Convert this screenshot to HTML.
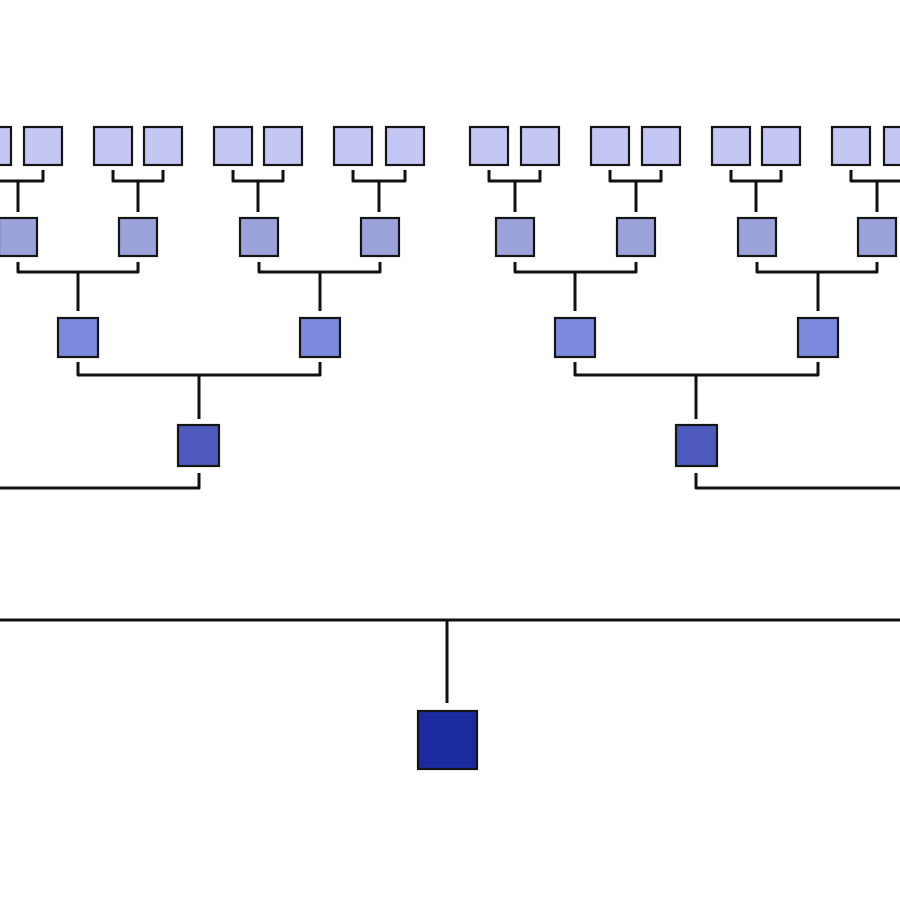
<!DOCTYPE html>
<html><head><style>html,body{margin:0;padding:0;background:#fff;}svg{display:block}</style></head>
<body>
<svg width="900" height="900" viewBox="0 0 900 900" xmlns="http://www.w3.org/2000/svg">
<g fill="none" stroke="#111" stroke-width="3" stroke-linejoin="round" stroke-linecap="butt">
<!-- top brackets -->
<path d="M-7,170 V181 H43 V170 M18,181 V212"/>
<path d="M113,170 V181 H163 V170 M138,181 V212"/>
<path d="M233,170 V181 H283 V170 M258,181 V212"/>
<path d="M353,170 V181 H405 V170 M379,181 V212"/>
<path d="M489,170 V181 H540 V170 M515,181 V212"/>
<path d="M610,170 V181 H661 V170 M636,181 V212"/>
<path d="M731,170 V181 H781 V170 M756,181 V212"/>
<path d="M851,170 V181 H903 V170 M877,181 V212"/>
<!-- level2 brackets -->
<path d="M18,262 V272 H138 V262 M78,272 V311"/>
<path d="M259,262 V272 H380 V262 M320,272 V311"/>
<path d="M515,262 V272 H636 V262 M575,272 V311"/>
<path d="M757,262 V272 H877 V262 M818,272 V311"/>
<!-- level3 -->
<path d="M78,362 V375 H320 V362 M199,375 V419"/>
<path d="M575,362 V375 H818 V362 M696,375 V419"/>
<!-- level4 -->
<path d="M199,473 V488 H-5"/>
<path d="M696,473 V488 H905"/>
<!-- root -->
<path d="M-5,620 H905 M447,620 V703"/>
</g>
<g stroke="#151515" stroke-width="2.2">
<g fill="#c4c6f4">
<rect x="-27" y="127" width="38" height="38"/><rect x="24" y="127" width="38" height="38"/>
<rect x="94" y="127" width="38" height="38"/><rect x="144" y="127" width="38" height="38"/>
<rect x="214" y="127" width="38" height="38"/><rect x="264" y="127" width="38" height="38"/>
<rect x="334" y="127" width="38" height="38"/><rect x="386" y="127" width="38" height="38"/>
<rect x="470" y="127" width="38" height="38"/><rect x="521" y="127" width="38" height="38"/>
<rect x="591" y="127" width="38" height="38"/><rect x="642" y="127" width="38" height="38"/>
<rect x="712" y="127" width="38" height="38"/><rect x="762" y="127" width="38" height="38"/>
<rect x="832" y="127" width="38" height="38"/><rect x="884" y="127" width="38" height="38"/>
</g>
<g fill="#9ca3da">
<rect x="-1" y="218" width="38" height="38"/><rect x="119" y="218" width="38" height="38"/>
<rect x="240" y="218" width="38" height="38"/><rect x="361" y="218" width="38" height="38"/>
<rect x="496" y="218" width="38" height="38"/><rect x="617" y="218" width="38" height="38"/>
<rect x="738" y="218" width="38" height="38"/><rect x="858" y="218" width="38" height="38"/>
</g>
<g fill="#7d89dc">
<rect x="58" y="318" width="40" height="39"/><rect x="300" y="318" width="40" height="39"/>
<rect x="555" y="318" width="40" height="39"/><rect x="798" y="318" width="40" height="39"/>
</g>
<g fill="#4e5bbd">
<rect x="178" y="425" width="41" height="41"/><rect x="676" y="425" width="41" height="41"/>
</g>
<rect x="418" y="711" width="59" height="58" fill="#1b2a9c"/>
</g>
</svg>
</body></html>
